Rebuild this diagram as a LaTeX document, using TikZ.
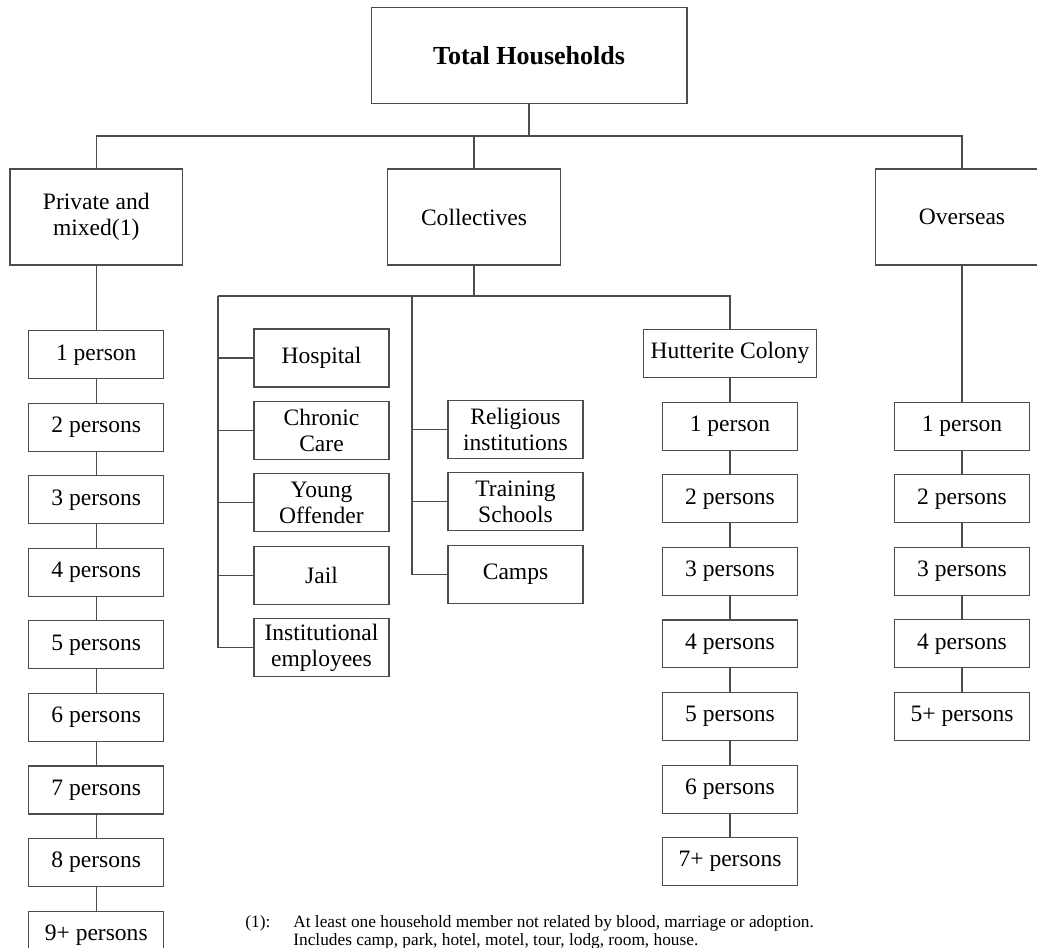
\documentclass[tikz,border=0pt]{standalone}
\usepackage{fontspec}
\setmainfont{Liberation Serif}
\usetikzlibrary{positioning}
\newcommand{\boxfont}{\fontsize{13.4}{14.8}\selectfont}

\begin{document}
\begin{tikzpicture}[
  x=0.02cm, y=-0.02cm,
  head/.style={draw=black!70, line width=0.6pt, inner sep=0pt,
               minimum width=6.32cm, minimum height=1.93cm,
               font=\fontsize{14.8}{17}\selectfont\bfseries},
  cat/.style={draw=black!70, line width=0.6pt, inner sep=0pt, align=center,
              minimum width=3.45cm, minimum height=1.92cm, font=\boxfont},
  pbox/.style={draw=black!70, line width=0.6pt, inner sep=0pt,
               minimum width=2.7cm, minimum height=0.96cm, font=\boxfont},
  cbox/.style={draw=black!70, line width=0.6pt, inner sep=0pt, align=center,
               minimum width=2.7cm, minimum height=1.16cm, font=\boxfont},
  note/.style={inner sep=0pt, font=\fontsize{9.85}{11}\selectfont},
  link/.style={draw=black!70, line width=0.6pt},
  node distance=0.47cm
]
  \useasboundingbox (0,0) rectangle (1037,947);

  \node[head] (total) at (529,55.5) {Total Households};
  \coordinate (bus) at (529,136);

  \node[cat] (priv) at (96.25,217) {Private and\\ mixed(1)};
  \node[cat] (coll) at (474,217)   {Collectives};
  \node[cat] (over) at (962,217)   {Overseas};

  % private and mixed
  \node[pbox, below=1.294cm of priv] (p1) {1 person};
  \node[pbox, below=of p1] (p2) {2 persons};
  \node[pbox, below=of p2] (p3) {3 persons};
  \node[pbox, below=of p3] (p4) {4 persons};
  \node[pbox, below=of p4] (p5) {5 persons};
  \node[pbox, below=of p5] (p6) {6 persons};
  \node[pbox, below=of p6] (p7) {7 persons};
  \node[pbox, below=of p7] (p8) {8 persons};
  \node[pbox, below=of p8] (p9) {9+ persons};

  % collectives
  \coordinate (cbus) at (474,296);
  \coordinate (cl) at (218,296);
  \coordinate (cm) at (412,296);
  \node[cbox] (hosp) at (321.5,358) {Hospital};
  \node[cbox, below=0.266cm of hosp]  (chron) {Chronic\\ Care};
  \node[cbox, below=0.266cm of chron] (young) {Young\\ Offender};
  \node[cbox, below=0.266cm of young] (jail)  {Jail};
  \node[cbox, below=0.266cm of jail]  (inst)  {Institutional\\ employees};
  \node[cbox] (relig) at (515.5,429.5) {Religious\\ institutions};
  \node[cbox, below=0.266cm of relig] (train) {Training\\ Schools};
  \node[cbox, below=0.266cm of train] (camps) {Camps};

  \node[pbox, minimum width=3.45cm] (hutt) at (730,353.3) {Hutterite Colony};
  \node[pbox, below=0.48cm of hutt] (h1) {1 person};
  \node[pbox, below=of h1] (h2) {2 persons};
  \node[pbox, below=of h2] (h3) {3 persons};
  \node[pbox, below=of h3] (h4) {4 persons};
  \node[pbox, below=of h4] (h5) {5 persons};
  \node[pbox, below=of h5] (h6) {6 persons};
  \node[pbox, below=of h6] (h7) {7+ persons};

  % overseas
  \node[pbox, below=2.726cm of over] (o1) {1 person};
  \node[pbox, below=of o1] (o2) {2 persons};
  \node[pbox, below=of o2] (o3) {3 persons};
  \node[pbox, below=of o3] (o4) {4 persons};
  \node[pbox, below=of o4] (o5) {5+ persons};

  \draw[link] (total) -- (bus);
  \draw[link] (priv) |- (bus) -| (over);
  \draw[link] (coll) -- (coll |- bus);

  \draw[link] (priv) -- (p1) -- (p2) -- (p3) -- (p4) -- (p5) -- (p6) -- (p7) -- (p8) -- (p9);

  \draw[link] (coll) -- (cbus);
  \draw[link] (cl) -| (hutt);
  \draw[link] (cl) |- (inst);
  \draw[link] (cl |- hosp) -- (hosp);
  \draw[link] (cl |- chron) -- (chron);
  \draw[link] (cl |- young) -- (young);
  \draw[link] (cl |- jail) -- (jail);
  \draw[link] (cm) |- (camps);
  \draw[link] (cm |- relig) -- (relig);
  \draw[link] (cm |- train) -- (train);
  \draw[link] (hutt) -- (h1) -- (h2) -- (h3) -- (h4) -- (h5) -- (h6) -- (h7);

  \draw[link] (over) -- (o1) -- (o2) -- (o3) -- (o4) -- (o5);

  % footnote
  \node[note, anchor=base west] (fnmark) at (245,927.5) {(1):};
  \node[note, anchor=base west] (fn1) at (293,927.5)
    {At least one household member not related by blood, marriage or adoption.};
  \node[note, anchor=base west] (fn2) at (293,945.5)
    {Includes camp, park, hotel, motel, tour, lodg, room, house.};
\end{tikzpicture}
\end{document}
